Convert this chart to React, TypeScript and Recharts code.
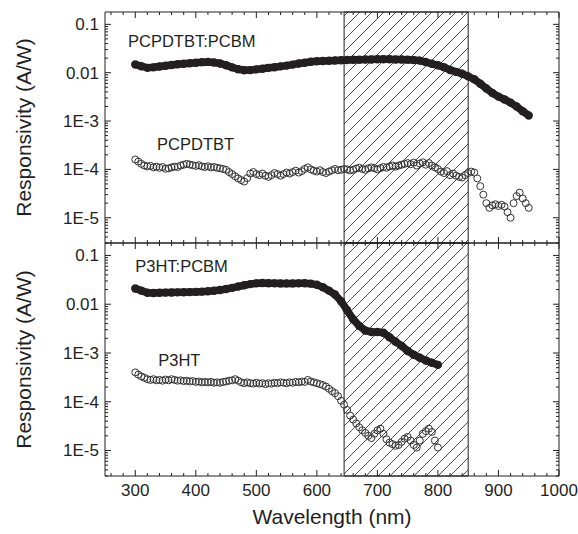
import React from 'react';
import { ComposedChart, Scatter, XAxis, YAxis, ReferenceArea, ReferenceDot, Label } from 'recharts';

const INK = '#231f20';
const FONT = '"Liberation Sans", Arial, Helvetica, sans-serif';

const X_DOMAIN: [number, number] = [250, 1000];
const Y_DOMAIN: [number, number] = [3e-6, 0.18];
const X_MAJOR_TICKS = [300, 400, 500, 600, 700, 800, 900, 1000];
const X_TICK_LABELS = ['300', '400', '500', '600', '700', '800', '900', '1000'];
const Y_MAJOR_TICKS = [1e-5, 1e-4, 1e-3, 0.01, 0.1];
const Y_TICK_LABELS = ['1E-5', '1E-4', '1E-3', '0.01', '0.1'];
const SHADE_FROM = 645;
const SHADE_TO = 850;

// PCPDTBT:PCBM (filled), 300..950 nm every 10 nm
const PCPDTBT_PCBM_START = 300;
const PCPDTBT_PCBM_STEP = 10;
const PCPDTBT_PCBM = [
  0.0148, 0.0136, 0.0126, 0.0129, 0.0134, 0.0139, 0.0144, 0.0149, 0.0153, 0.0157,
  0.0161, 0.0165, 0.0167, 0.0163, 0.0155, 0.0143, 0.0129, 0.0118, 0.0112, 0.0113,
  0.0117, 0.0121, 0.0126, 0.013, 0.0135, 0.014, 0.0147, 0.0155, 0.0161, 0.0168,
  0.0172, 0.0175, 0.0177, 0.0179, 0.0181, 0.0183, 0.0185, 0.0186, 0.0187, 0.0188,
  0.0189, 0.0189, 0.0189, 0.0188, 0.0187, 0.0186, 0.0182, 0.0178, 0.0166, 0.0153,
  0.0142, 0.013, 0.0114, 0.0104, 0.0095, 0.0084, 0.0073, 0.0059, 0.0047, 0.0038,
  0.0032, 0.0028, 0.0024, 0.002, 0.0016, 0.0013,
];

// PCPDTBT (open), 300..950 nm every 5 nm
const PCPDTBT_START = 300;
const PCPDTBT_STEP = 5;
const PCPDTBT = [
  1.6e-4, 1.45e-4, 1.3e-4, 1.2e-4, 1.15e-4, 1.18e-4, 1.1e-4, 1.14e-4, 1.08e-4, 1.12e-4,
  1.03e-4, 1.05e-4, 1.1e-4, 1.14e-4, 1.12e-4, 1.2e-4, 1.25e-4, 1.3e-4, 1.26e-4, 1.22e-4,
  1.18e-4, 1.22e-4, 1.15e-4, 1.12e-4, 1.16e-4, 1.1e-4, 1.12e-4, 1.08e-4, 1.05e-4, 1.02e-4,
  9.8e-5, 8.8e-5, 8.0e-5, 7.2e-5, 6.5e-5, 6.0e-5, 5.6e-5, 6.6e-5, 8.2e-5, 8.8e-5,
  8.0e-5, 7.6e-5, 8.2e-5, 7.4e-5, 7.0e-5, 7.6e-5, 8.4e-5, 8.0e-5, 7.4e-5, 8.0e-5,
  8.6e-5, 8.2e-5, 8.8e-5, 9.4e-5, 8.6e-5, 9.2e-5, 1.02e-4, 1.1e-4, 1.0e-4, 9.4e-5,
  9.0e-5, 9.6e-5, 8.8e-5, 8.4e-5, 9.0e-5, 9.6e-5, 1.02e-4, 9.6e-5, 9.8e-5, 1.02e-4,
  1.0e-4, 9.5e-5, 9.8e-5, 1.04e-4, 1.08e-4, 1.02e-4, 9.8e-5, 1.05e-4, 1.1e-4, 1.06e-4,
  1.0e-4, 1.06e-4, 1.12e-4, 1.08e-4, 1.15e-4, 1.2e-4, 1.14e-4, 1.2e-4, 1.25e-4, 1.3e-4,
  1.35e-4, 1.28e-4, 1.38e-4, 1.2e-4, 1.32e-4, 1.4e-4, 1.25e-4, 1.35e-4, 1.2e-4, 1.1e-4,
  1.02e-4, 9.0e-5, 8.4e-5, 9.2e-5, 7.6e-5, 8.2e-5, 7.4e-5, 7.0e-5, 6.8e-5, 7.6e-5,
  8.4e-5, 9.0e-5, 8.6e-5, 6.5e-5, 4.5e-5, 3.0e-5, 2.0e-5, 1.6e-5, 1.8e-5, 1.9e-5,
  1.75e-5, 1.85e-5, 1.7e-5, 1.3e-5, 1.0e-5, 2.0e-5, 2.8e-5, 3.3e-5, 2.5e-5, 2.0e-5,
  1.6e-5,
];

// P3HT:PCBM (filled), 300..800 nm every 10 nm
const P3HT_PCBM_START = 300;
const P3HT_PCBM_STEP = 10;
const P3HT_PCBM = [
  0.021, 0.019, 0.0172, 0.017, 0.0172, 0.0173, 0.0174, 0.0175, 0.0176, 0.0177,
  0.0179, 0.0181, 0.0184, 0.0189, 0.0195, 0.0205, 0.0216, 0.023, 0.0245, 0.0258,
  0.0268, 0.0273, 0.027, 0.0268, 0.0267, 0.0267, 0.0267, 0.0268, 0.027, 0.0264,
  0.025, 0.0222, 0.019, 0.0158, 0.0115, 0.0075, 0.0049, 0.0036, 0.0029, 0.0027,
  0.0027, 0.0026, 0.0021, 0.0017, 0.0014, 0.0011, 0.00092, 0.0008, 0.0007, 0.00063,
  0.00057,
];

// P3HT (open), 300..800 nm every 5 nm
const P3HT_START = 300;
const P3HT_STEP = 5;
const P3HT = [
  4.0e-4, 3.6e-4, 3.3e-4, 3.1e-4, 2.9e-4, 2.8e-4, 2.9e-4, 2.75e-4, 2.8e-4, 2.7e-4,
  2.85e-4, 2.75e-4, 2.9e-4, 2.8e-4, 2.7e-4, 2.75e-4, 2.65e-4, 2.7e-4, 2.6e-4, 2.65e-4,
  2.55e-4, 2.6e-4, 2.5e-4, 2.55e-4, 2.5e-4, 2.55e-4, 2.45e-4, 2.5e-4, 2.45e-4, 2.55e-4,
  2.6e-4, 2.7e-4, 2.75e-4, 2.9e-4, 2.7e-4, 2.5e-4, 2.4e-4, 2.5e-4, 2.4e-4, 2.35e-4,
  2.45e-4, 2.35e-4, 2.4e-4, 2.3e-4, 2.4e-4, 2.35e-4, 2.45e-4, 2.4e-4, 2.5e-4, 2.45e-4,
  2.4e-4, 2.5e-4, 2.45e-4, 2.55e-4, 2.5e-4, 2.6e-4, 2.55e-4, 2.8e-4, 2.6e-4, 2.5e-4,
  2.4e-4, 2.3e-4, 2.2e-4, 2.05e-4, 1.85e-4, 1.65e-4, 1.5e-4, 1.3e-4, 1.05e-4, 8.7e-5,
  6.8e-5, 5.2e-5, 4.3e-5, 3.6e-5, 3.0e-5, 2.6e-5, 2.3e-5, 2.0e-5, 1.8e-5, 2.2e-5,
  2.6e-5, 2.8e-5, 2.2e-5, 1.7e-5, 1.45e-5, 1.35e-5, 1.25e-5, 1.3e-5, 1.5e-5, 1.75e-5,
  1.9e-5, 1.6e-5, 1.3e-5, 1.15e-5, 1.6e-5, 2.2e-5, 2.5e-5, 2.8e-5, 2.4e-5, 1.6e-5,
  1.15e-5,
];

// Series annotations: [text, wavelength, responsivity at baseline]
const TOP_NOTES: [string, number, number][] = [
  ['PCPDTBT:PCBM', 288, 0.034],
  ['PCPDTBT', 336, 2.55e-4],
];
const BOTTOM_NOTES: [string, number, number][] = [
  ['P3HT:PCBM', 300, 0.0456],
  ['P3HT', 338, 5.43e-4],
];

const toPoints = (start: number, step: number, values: number[]) =>
  values.map((y, i) => ({ x: start + i * step, y }));

const X_ALL_TICKS: number[] = [];
for (let v = 260; v <= 1000; v += 20) X_ALL_TICKS.push(v);

const Y_ALL_TICKS: number[] = [];
for (let d = -6; d <= -1; d++) {
  for (let m = 1; m <= 9; m++) {
    const v = m * Math.pow(10, d);
    if (v >= Y_DOMAIN[0] * 0.999 && v <= Y_DOMAIN[1]) Y_ALL_TICKS.push(v);
  }
}

const yMajorIndex = (v: number) => Y_MAJOR_TICKS.findIndex((t) => Math.abs(v / t - 1) < 1e-6);
const xMajorIndex = (v: number) => X_MAJOR_TICKS.findIndex((t) => Math.abs(v - t) < 1e-6);

const makeYTick = (side: 'left' | 'right', showLabel: boolean) => (p: any) => {
  const { x, y, payload } = p;
  const idx = yMajorIndex(payload.value);
  const len = idx >= 0 ? 6 : 3;
  const dir = side === 'left' ? 1 : -1;
  return (
    <g>
      <line x1={x} y1={y} x2={x + dir * len} y2={y} stroke={INK} strokeWidth={1} />
      {showLabel && idx >= 0 && (
        <text x={x - 6} y={y} dy="0.35em" textAnchor="end" fontSize={17} fill={INK} fontFamily={FONT}>
          {Y_TICK_LABELS[idx]}
        </text>
      )}
    </g>
  );
};

const makeXTick = (side: 'top' | 'bottom', showLabel: boolean) => (p: any) => {
  const { x, y, payload } = p;
  const idx = xMajorIndex(payload.value);
  const len = idx >= 0 ? 6 : 3;
  const dir = side === 'top' ? 1 : -1;
  return (
    <g>
      <line x1={x} y1={y} x2={x} y2={y + dir * len} stroke={INK} strokeWidth={1} />
      {showLabel && idx >= 0 && (
        <text x={x} y={y + 20} textAnchor="middle" fontSize={17} fill={INK} fontFamily={FONT}>
          {X_TICK_LABELS[idx]}
        </text>
      )}
    </g>
  );
};

const filledShape = (p: any) => <circle cx={p.cx} cy={p.cy} r={4.2} fill={INK} stroke="none" />;
const openShape = (p: any) => (
  <circle cx={p.cx} cy={p.cy} r={3.5} fill="none" stroke="#333" strokeWidth={1} />
);

const yTitle = (props: any) => {
  const vb = props.viewBox || {};
  const cx = (vb.x || 0) + 24;
  const cy = (vb.y || 0) + (vb.height || 0) / 2;
  return (
    <text
      x={cx}
      y={cy}
      dy="0.35em"
      textAnchor="middle"
      fontSize={21}
      fill={INK}
      fontFamily={FONT}
      transform={`rotate(-90, ${cx}, ${cy})`}
    >
      Responsivity (A/W)
    </text>
  );
};

const xTitle = (props: any) => {
  const vb = props.viewBox || {};
  return (
    <text
      x={(vb.x || 0) + (vb.width || 0) / 2}
      y={(vb.y || 0) + 48}
      textAnchor="middle"
      fontSize={21}
      fill={INK}
      fontFamily={FONT}
    >
      Wavelength (nm)
    </text>
  );
};

const noteContent = (props: any) => {
  const vb = props.viewBox || {};
  return (
    <text x={vb.x} y={vb.y} fontSize={16.5} fill={INK} fontFamily={FONT}>
      {props.value}
    </text>
  );
};

type PanelProps = {
  filled: { x: number; y: number }[];
  open: { x: number; y: number }[];
  notes: [string, number, number][];
  bottomPanel: boolean;
};

const Panel = ({ filled, open, notes, bottomPanel }: PanelProps) => {
  const height = bottomPanel ? 304 : 245;
  const margin = bottomPanel
    ? { top: 12, right: 0, bottom: 0, left: 0 }
    : { top: 11, right: 0, bottom: 0, left: 0 };
  return (
    <ComposedChart width={578} height={height} margin={margin}>
      <XAxis
        xAxisId="b"
        dataKey="x"
        type="number"
        orientation="bottom"
        domain={X_DOMAIN}
        allowDataOverflow
        ticks={X_ALL_TICKS}
        interval={0}
        height={bottomPanel ? 58 : 2}
        tickSize={0}
        tickMargin={0}
        tickLine={false}
        axisLine={{ stroke: INK, strokeWidth: 1 }}
        tick={makeXTick('bottom', bottomPanel)}
      >
        {bottomPanel && <Label content={xTitle} />}
      </XAxis>
      <XAxis
        xAxisId="t"
        dataKey="x"
        type="number"
        orientation="top"
        domain={X_DOMAIN}
        allowDataOverflow
        ticks={X_ALL_TICKS}
        interval={0}
        height={1}
        tickSize={0}
        tickMargin={0}
        tickLine={false}
        axisLine={{ stroke: INK, strokeWidth: 1 }}
        tick={makeXTick('top', false)}
      />
      <YAxis
        yAxisId="l"
        dataKey="y"
        type="number"
        scale="log"
        orientation="left"
        domain={Y_DOMAIN}
        allowDataOverflow
        ticks={Y_ALL_TICKS}
        interval={0}
        width={105}
        tickSize={0}
        tickMargin={0}
        tickLine={false}
        axisLine={{ stroke: INK, strokeWidth: 1 }}
        tick={makeYTick('left', true)}
      >
        <Label content={yTitle} />
      </YAxis>
      <YAxis
        yAxisId="r"
        dataKey="y"
        type="number"
        scale="log"
        orientation="right"
        domain={Y_DOMAIN}
        allowDataOverflow
        ticks={Y_ALL_TICKS}
        interval={0}
        width={19}
        tickSize={0}
        tickMargin={0}
        tickLine={false}
        axisLine={{ stroke: INK, strokeWidth: 1 }}
        tick={makeYTick('right', false)}
      />
      <ReferenceArea
        xAxisId="b"
        yAxisId="l"
        x1={SHADE_FROM}
        x2={SHADE_TO}
        fill="url(#hatch)"
        fillOpacity={1}
        stroke={INK}
        strokeWidth={1}
        ifOverflow="visible"
      />
      <Scatter
        xAxisId="b"
        yAxisId="l"
        data={open}
        shape={openShape}
        isAnimationActive={false}
      />
      <Scatter
        xAxisId="b"
        yAxisId="l"
        data={filled}
        shape={filledShape}
        line={{ stroke: INK, strokeWidth: 7.5 }}
        lineJointType="linear"
        isAnimationActive={false}
      />
      {notes.map(([text, x, y]) => (
        <ReferenceDot
          key={text}
          xAxisId="b"
          yAxisId="l"
          x={x}
          y={y}
          r={0}
          fill="none"
          stroke="none"
          label={{ value: text, content: noteContent }}
        />
      ))}
    </ComposedChart>
  );
};

export default function App() {
  const topFilled = toPoints(PCPDTBT_PCBM_START, PCPDTBT_PCBM_STEP, PCPDTBT_PCBM);
  const topOpen = toPoints(PCPDTBT_START, PCPDTBT_STEP, PCPDTBT);
  const botFilled = toPoints(P3HT_PCBM_START, P3HT_PCBM_STEP, P3HT_PCBM);
  const botOpen = toPoints(P3HT_START, P3HT_STEP, P3HT);
  return (
    <div
      style={{
        position: 'absolute',
        left: 0,
        top: 0,
        width: 578,
        height: 534,
        background: '#fff',
        fontFamily: FONT,
        overflow: 'hidden',
      }}
    >
      <svg width={0} height={0} style={{ position: 'absolute' }}>
        <defs>
          <pattern id="hatch" patternUnits="userSpaceOnUse" width={12} height={12}>
            <path d="M0,12 L12,0 M-3,3 L3,-3 M9,15 L15,9" stroke={INK} strokeWidth={0.8} />
          </pattern>
        </defs>
      </svg>
      <div style={{ position: 'absolute', left: 0, top: 0 }}>
        <Panel filled={topFilled} open={topOpen} notes={TOP_NOTES} bottomPanel={false} />
      </div>
      <div style={{ position: 'absolute', left: 0, top: 230 }}>
        <Panel filled={botFilled} open={botOpen} notes={BOTTOM_NOTES} bottomPanel={true} />
      </div>
    </div>
  );
}
